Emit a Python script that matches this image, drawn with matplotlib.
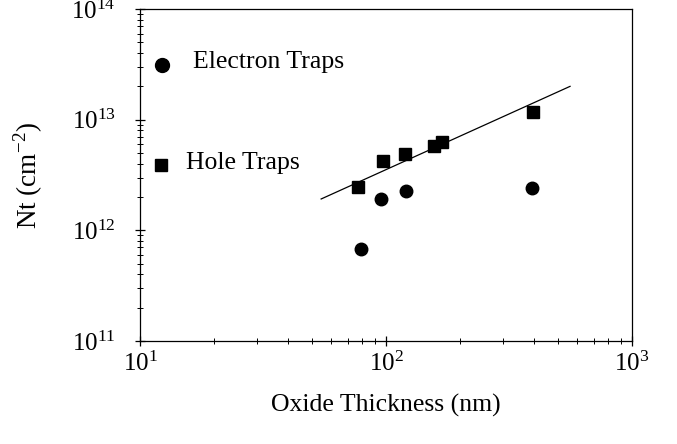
import numpy as np
import matplotlib.pyplot as plt

plt.rcParams['font.family'] = ['Liberation Serif', 'DejaVu Serif']
plt.rcParams['mathtext.fontset'] = 'custom'
plt.rcParams['mathtext.rm'] = 'Liberation Serif'

# Hole traps (squares)
hole_thickness = [77, 97.5, 119, 156, 169, 397]
hole_nt = [2.45e12, 4.2e12, 4.9e12, 5.8e12, 6.3e12, 1.18e13]

# Electron traps (circles)
elec_thickness = [79, 95.5, 121, 394]
elec_nt = [6.8e11, 1.9e12, 2.27e12, 2.4e12]

# Fit line end points
fit_thickness = [54.5, 560]
fit_nt = [1.92e12, 2.0e13]

fig = plt.figure(figsize=(6.77, 4.44), dpi=100)
ax = fig.add_axes([140 / 677, 1 - 341 / 444, (632 - 140) / 677, (341 - 9) / 444])

ax.set_xscale('log')
ax.set_yscale('log')
ax.set_xlim(10, 1000)
ax.set_ylim(1e11, 1e14)

ax.plot(fit_thickness, fit_nt, color='black', lw=0.9)
ax.plot(hole_thickness, hole_nt, 's', color='black', ms=9)
ax.plot(elec_thickness, elec_nt, 'o', color='black', ms=9)

# legend drawn by hand, as in the original
ax.plot([0.044], [0.83], 'o', color='black', ms=10, transform=ax.transAxes, clip_on=False)
ax.text(0.107, 0.84, 'Electron Traps', transform=ax.transAxes, fontsize=18.5, va='center')
ax.plot([0.043], [0.53], 's', color='black', ms=9, transform=ax.transAxes, clip_on=False)
ax.text(0.093, 0.535, 'Hole Traps', transform=ax.transAxes, fontsize=18.5, va='center')

ax.tick_params(which='both', direction='inout', labelsize=18)
ax.tick_params(which='major', length=7, width=0.9)
ax.tick_params(which='minor', length=4, width=0.7)
ax.tick_params(axis='x', which='major', pad=4)
ax.tick_params(axis='y', which='major', pad=14)
ax.xaxis.set_minor_formatter(plt.NullFormatter())
ax.yaxis.set_minor_formatter(plt.NullFormatter())

for s in ax.spines.values():
    s.set_linewidth(0.9)

ax.set_xlabel('Oxide Thickness (nm)', fontsize=18.5, labelpad=13)
ax.set_ylabel('Nt (cm$^{\\mathregular{-2}}$)', fontsize=19.5, labelpad=19)

fig.savefig('out.png', dpi=100)
